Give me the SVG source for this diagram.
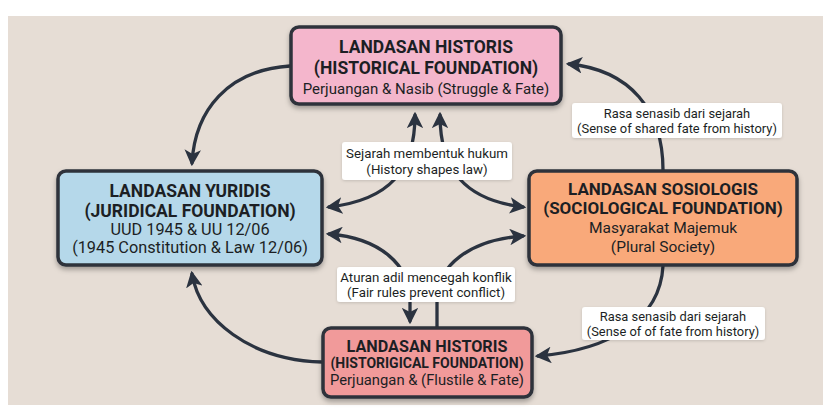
<svg xmlns="http://www.w3.org/2000/svg" width="831" height="412" viewBox="0 0 831 412">
<defs>
<style>
.box{stroke:#2d333b;stroke-width:3.5;filter:url(#sh)}
.t{font-family:Roboto,"Liberation Sans",sans-serif;fill:#1c1f24;text-anchor:middle}
.b{font-weight:bold}
.lbl{fill:#ffffff;filter:url(#sh2)}
.c{fill:none;stroke:#2b3340;stroke-width:3.3;stroke-linecap:round}
</style>
<filter id="sh" x="-10%" y="-20%" width="120%" height="150%"><feDropShadow dx="0" dy="3" stdDeviation="2.5" flood-color="#000" flood-opacity="0.3"/></filter>
<filter id="sh2" x="-10%" y="-20%" width="120%" height="150%"><feDropShadow dx="0" dy="1" stdDeviation="1.5" flood-color="#000" flood-opacity="0.15"/></filter>
<marker id="ah" viewBox="0 0 10 10" refX="8" refY="5" markerWidth="5" markerHeight="5" orient="auto-start-reverse" markerUnits="strokeWidth"><path d="M0,0 L10,5 L0,10 L2.5,5 Z" fill="#2b3340"/></marker>
</defs>
<rect x="0" y="0" width="831" height="412" fill="#ffffff"/>
<rect x="8" y="16" width="815" height="389" fill="#e6ddd5"/>
<g id="connectors">
<path class="c" d="M290,66 C228,70 195,110 192,163" marker-end="url(#ah)"/>
<path class="c" d="M322,362 C250,360 200,320 192,274" marker-end="url(#ah)"/>
<path class="c" d="M663,170 C663,110 630,70 569,64" marker-end="url(#ah)"/>
<path class="c" d="M663,266 C660,320 610,350 538,356" marker-end="url(#ah)"/>
<path class="c" d="M415,115 C415,170 390,200 329,207" marker-start="url(#ah)" marker-end="url(#ah)"/>
<path class="c" d="M440,115 C440,170 465,200 523,207" marker-start="url(#ah)" marker-end="url(#ah)"/>
<path class="c" d="M329,234 C380,238 410,265 410,300 L410,321" marker-start="url(#ah)" marker-end="url(#ah)"/>
<path class="c" d="M437,327 L437,300 C437,265 470,240 523,236" marker-end="url(#ah)"/>
</g>
<g id="label-top">
<rect class="lbl" x="342" y="142" width="170" height="38" rx="3"/>
<text class="t" x="427" y="158" font-size="13.3">Sejarah membentuk hukum</text>
<text class="t" x="427" y="174" font-size="13.3">(History shapes law)</text>
</g>
<g id="label-bottom">
<rect class="lbl" x="337" y="267" width="178" height="35" rx="3"/>
<text class="t" x="426" y="282" font-size="13.3">Aturan adil mencegah konflik</text>
<text class="t" x="426" y="297" font-size="13.3">(Fair rules prevent conflict)</text>
</g>
<g id="label-right-top">
<rect class="lbl" x="572" y="103" width="210" height="35" rx="3"/>
<text class="t" x="677" y="118" font-size="12.9">Rasa senasib dari sejarah</text>
<text class="t" x="677" y="133" font-size="12.9">(Sense of shared fate from history)</text>
</g>
<g id="label-right-bottom">
<rect class="lbl" x="582" y="307" width="183" height="33" rx="3"/>
<text class="t" x="673" y="321" font-size="12.9">Rasa senasib dari sejarah</text>
<text class="t" x="673" y="336" font-size="12.9">(Sense of of fate from history)</text>
</g>
<g id="node-historis-top">
<rect class="box" x="291" y="27" width="270" height="77" rx="8" fill="#f4b6cc"/>
<text class="t b" x="426" y="53" font-size="17.5">LANDASAN HISTORIS</text>
<text class="t b" x="426" y="74" font-size="17.5">(HISTORICAL FOUNDATION)</text>
<text class="t" x="426" y="94" font-size="15">Perjuangan &amp; Nasib (Struggle &amp; Fate)</text>
</g>
<g id="node-yuridis">
<rect class="box" x="58" y="171" width="264" height="94" rx="8" fill="#b5d8ea"/>
<text class="t b" x="190" y="197" font-size="17.5">LANDASAN YURIDIS</text>
<text class="t b" x="190" y="217" font-size="17.5">(JURIDICAL FOUNDATION)</text>
<text class="t" x="190" y="235" font-size="16.3">UUD 1945 &amp; UU 12/06</text>
<text class="t" x="190" y="253" font-size="16.3">(1945 Constitution &amp; Law 12/06)</text>
</g>
<g id="node-sosiologis">
<rect class="box" x="529" y="171" width="268" height="94" rx="8" fill="#f9a97a"/>
<text class="t b" x="663" y="195" font-size="17">LANDASAN SOSIOLOGIS</text>
<text class="t b" x="663" y="214" font-size="17">(SOCIOLOGICAL FOUNDATION)</text>
<text class="t" x="663" y="233" font-size="15.5">Masyarakat Majemuk</text>
<text class="t" x="663" y="252" font-size="15.5">(Plural Society)</text>
</g>
<g id="node-historis-bottom">
<rect class="box" x="323" y="328" width="209" height="69" rx="8" fill="#f19a9a"/>
<text class="t b" x="427" y="352" font-size="16.2">LANDASAN HISTORIS</text>
<text class="t b" x="427" y="368" font-size="14">(HISTORIGICAL FOUNDATION)</text>
<text class="t" x="427" y="385" font-size="14.8">Perjuangan &amp; (Flustile &amp; Fate)</text>
</g>
</svg>
